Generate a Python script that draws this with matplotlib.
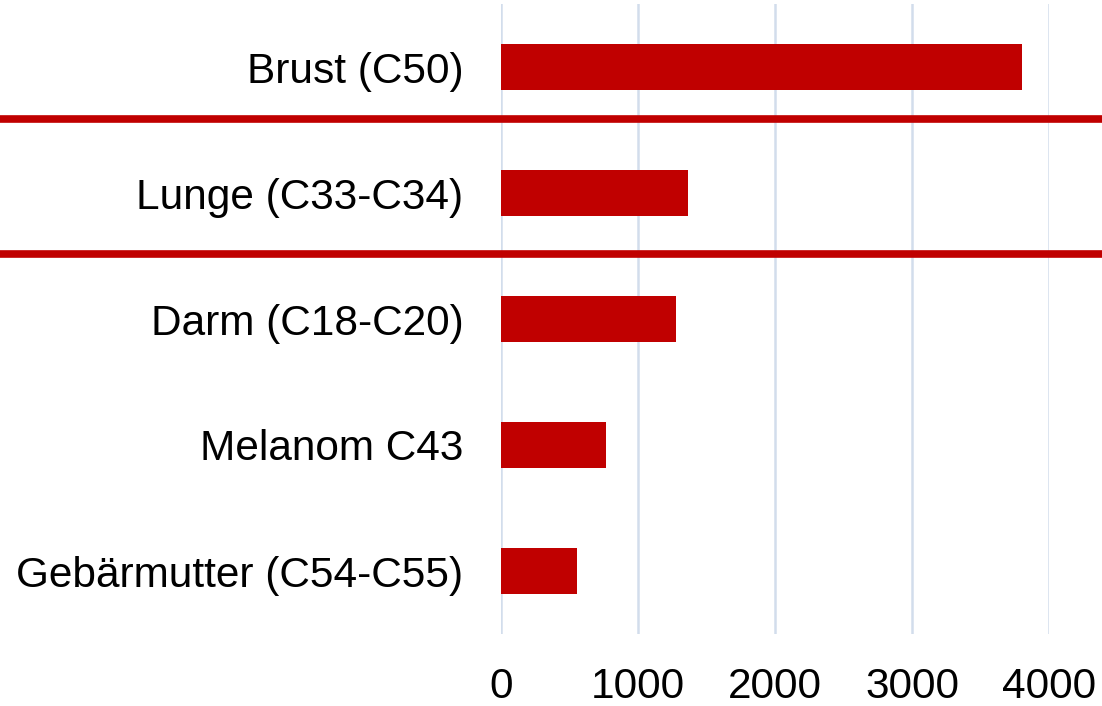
import matplotlib
matplotlib.use('Agg')
import matplotlib.pyplot as plt
from matplotlib.lines import Line2D
from matplotlib.transforms import blended_transform_factory

# Data
categories = ['Brust (C50)', 'Lunge (C33-C34)', 'Darm (C18-C20)',
              'Melanom C43', 'Gebärmutter (C54-C55)']
values = [3800, 1365, 1277, 766, 555]
x_ticks = [0, 1000, 2000, 3000, 4000]
separator_after = [0.413, 1.484]  # y positions (category units) of the red dividers

bar_color = '#C00000'
grid_color = '#D2DDEC'

plt.rcParams['font.family'] = ['Liberation Sans', 'DejaVu Sans']

fig = plt.figure(figsize=(11.02, 7.06), dpi=100)
ax = fig.add_axes([501 / 1102, 1 - 634 / 706, (1049 - 501) / 1102, (634 - 4) / 706])

ypos = list(range(len(categories)))
ax.barh(ypos, values, height=0.36, color=bar_color, zorder=3)

ax.set_xlim(0, 4000)
ax.set_ylim(len(categories) - 0.5, -0.5)
ax.set_yticks(ypos)
ax.set_yticklabels(categories, fontsize=30.5)
ax.set_xticks(x_ticks)
ax.set_xticklabels([str(t) for t in x_ticks], fontsize=30.5)
ax.tick_params(axis='y', length=0, pad=27)
ax.tick_params(axis='x', length=0, pad=24)

ax.grid(axis='x', color=grid_color, linewidth=1.8, zorder=0)
ax.set_axisbelow(True)
for s in ax.spines.values():
    s.set_visible(False)

# red dividers spanning the whole figure width
trans = blended_transform_factory(fig.transFigure, ax.transData)
for y in separator_after:
    fig.add_artist(Line2D([0, 1], [y, y], transform=trans, color=bar_color,
                          linewidth=5.5, zorder=4))

fig.savefig('out.png', dpi=100, facecolor='white')
